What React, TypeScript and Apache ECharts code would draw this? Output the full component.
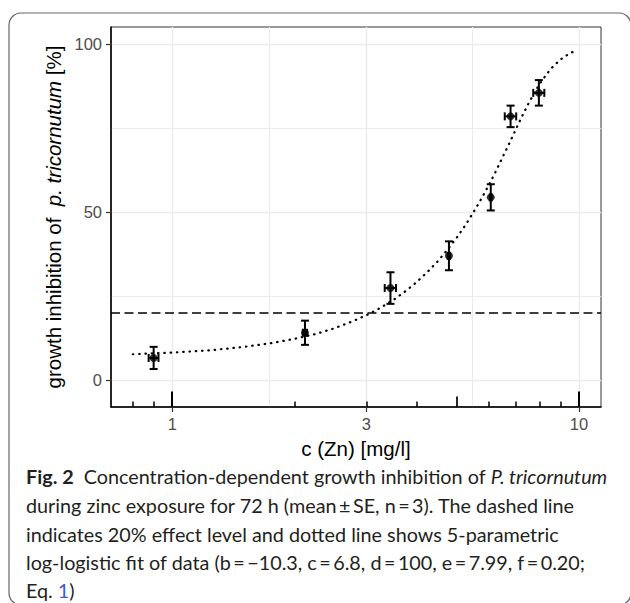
import React, { useEffect, useRef } from 'react';
import * as echarts from 'echarts';

// measured data (mean ± SE)
const concentration = [0.9, 2.12, 3.44, 4.79, 6.07, 6.79, 7.97];
const inhibition = [6.5, 14.0, 27.3, 36.9, 54.3, 78.4, 85.4];
const inhibitionSE = [3.3, 3.6, 4.7, 4.3, 3.9, 3.2, 3.8];
const concentrationSE = [0.025, 0.025, 0.11, 0.03, 0.03, 0.22, 0.25];

// dotted log-logistic fit
const fitConcentration = [0.8, 1, 1.25, 1.5, 1.75, 2, 2.25, 2.5, 2.75, 3, 3.25, 3.5, 3.75, 4, 4.25, 4.5, 4.75, 5, 5.25, 5.5, 5.75, 6, 6.25, 6.5, 6.75, 7, 7.25, 7.5, 7.75, 8, 8.5, 9, 9.5, 9.9];
const fitInhibition = [7.6, 8.1, 8.8, 9.8, 10.9, 12.2, 13.6, 15.3, 17.2, 19.2, 21.4, 23.8, 26.4, 29.2, 32.2, 35.3, 38.7, 42.2, 45.9, 49.8, 53.8, 57.9, 62.1, 66.4, 70.5, 74.6, 78.5, 82.0, 85.2, 88.0, 92.4, 95.3, 97.2, 98.1];

const effectLevel = 20;
const xTickLabels = [1, 3, 10];
const xMinorGrid = [1.732, 5.477];
const yTickLabels = [0, 50, 100];
const yMinorGrid = [25, 75];
const logTicksShort = [0.8, 0.9, 2, 3, 4, 6, 7, 8, 9];
const logTicksMid = [5];
const logTicksLong = [1, 10];

const X_MIN = 0.707;
const X_MAX = 11.33;
const Y_MIN = -8.1;
const Y_MAX = 105;

const AXIS_FONT = '"Liberation Sans", Arial, Helvetica, sans-serif';
const CAPTION_FONT = 'Lato, "Noto Sans", sans-serif';
const CAPTION_SIZE = 19.8;

const hidden = {
  axisLine: { show: false, onZero: false },
  axisLabel: { show: false },
  axisTick: { show: false },
  splitLine: { show: false },
  minorTick: { show: false },
  minorSplitLine: { show: false },
};

function tickAxis(values: number[], length: number, width: number) {
  return {
    type: 'log',
    logBase: 10,
    min: X_MIN,
    max: X_MAX,
    position: 'bottom',
    gridIndex: 0,
    ...hidden,
    axisTick: {
      show: true,
      inside: true,
      length,
      customValues: values,
      lineStyle: { color: '#000', width },
    },
  };
}

export default function App() {
  const ref = useRef<HTMLDivElement>(null);

  useEffect(() => {
    if (!ref.current) return;
    const chart = echarts.init(ref.current, undefined, { renderer: 'svg' });

    const errData = concentration.map((x, i) => [x, inhibition[i], inhibitionSE[i], concentrationSE[i]]);
    const pointData = concentration.map((x, i) => [x, inhibition[i]]);
    const fitData = fitConcentration.map((x, i) => [x, fitInhibition[i]]);

    const captionStyle = {
      fontFamily: CAPTION_FONT,
      fontSize: CAPTION_SIZE,
      fill: '#231f20',
      verticalAlign: 'middle',
      align: 'left',
    };
    const captionRich = {
      b: { fontFamily: CAPTION_FONT, fontSize: CAPTION_SIZE, fontWeight: 'bold', fill: '#231f20' },
      i: { fontFamily: CAPTION_FONT, fontSize: CAPTION_SIZE, fontStyle: 'italic', fill: '#231f20' },
      l: { fontFamily: CAPTION_FONT, fontSize: CAPTION_SIZE, fill: '#3a5bd9' },
    };
    const captionLines = [
      '{b|Fig. 2}  Concentration-dependent growth inhibition of {i|P. tricornutum}',
      'during zinc exposure for 72 h (mean\u2009±\u2009SE, n\u2009=\u20093). The dashed line',
      'indicates 20% effect level and dotted line shows 5-parametric',
      'log-logistic fit of data (b\u2009=\u2009−10.3, c\u2009=\u20096.8, d\u2009=\u2009100, e\u2009=\u20097.99, f\u2009=\u20090.20;',
      'Eq. {l|1})',
    ];
    const captionY = [476, 505, 534, 562, 590];

    chart.setOption({
      animation: false,
      backgroundColor: '#fff',
      grid: {
        left: 111,
        right: 29,
        top: 27,
        bottom: 196,
        show: true,
        borderColor: '#333',
        borderWidth: 1,
        backgroundColor: 'transparent',
        containLabel: false,
        outerBoundsMode: 'none',
      },
      xAxis: [
        {
          type: 'log',
          logBase: 10,
          min: X_MIN,
          max: X_MAX,
          position: 'bottom',
          name: 'c (Zn) [mg/l]',
          nameLocation: 'middle',
          nameGap: 31,
          nameTextStyle: { fontFamily: AXIS_FONT, fontSize: 20.5, color: '#000' },
          axisLine: { show: true, onZero: false, lineStyle: { color: '#000', width: 1.5 } },
          axisTick: { show: true, length: 5, customValues: xTickLabels, lineStyle: { color: '#333', width: 1.2 } },
          axisLabel: {
            show: true,
            customValues: xTickLabels,
            margin: 8,
            fontFamily: AXIS_FONT,
            fontSize: 16.5,
            color: '#4d4d4d',
            formatter: (v: number) => String(Math.round(v)),
          },
          splitLine: { show: true, lineStyle: { color: '#ebebeb', width: 1.4 } },
          minorTick: { show: false },
          minorSplitLine: { show: false },
        },
        {
          type: 'log',
          logBase: 10,
          min: X_MIN,
          max: X_MAX,
          position: 'bottom',
          ...hidden,
          axisTick: { show: false, customValues: xMinorGrid },
          splitLine: { show: true, lineStyle: { color: '#ebebeb', width: 1 } },
        },
        tickAxis(logTicksShort, 5.5, 1.5),
        tickAxis(logTicksMid, 10.5, 1.7),
        tickAxis(logTicksLong, 15.5, 2),
      ],
      yAxis: [
        {
          type: 'value',
          min: Y_MIN,
          max: Y_MAX,
          position: 'left',
          name: '{n|growth inhibition of  }{i|p. tricornutum}{n| [%]}',
          nameLocation: 'middle',
          nameGap: 43,
          nameRotate: 90,
          nameTextStyle: {
            fontFamily: AXIS_FONT,
            fontSize: 20.5,
            color: '#000',
            rich: {
              n: { fontFamily: AXIS_FONT, fontSize: 20.5, color: '#000' },
              i: { fontFamily: AXIS_FONT, fontSize: 20.5, color: '#000', fontStyle: 'italic' },
            },
          },
          axisLine: { show: true, onZero: false, lineStyle: { color: '#000', width: 1.5 } },
          axisTick: { show: true, length: 5, customValues: yTickLabels, lineStyle: { color: '#333', width: 1.2 } },
          axisLabel: {
            show: true,
            customValues: yTickLabels,
            margin: 9,
            fontFamily: AXIS_FONT,
            fontSize: 16.5,
            color: '#4d4d4d',
          },
          splitLine: { show: true, lineStyle: { color: '#ebebeb', width: 1.4 } },
        },
        {
          type: 'value',
          min: Y_MIN,
          max: Y_MAX,
          position: 'left',
          ...hidden,
          axisTick: { show: false, customValues: yMinorGrid },
          splitLine: { show: true, lineStyle: { color: '#ebebeb', width: 1 } },
        },
      ],
      series: [
        {
          type: 'line',
          name: 'fit',
          data: fitData,
          showSymbol: false,
          symbol: 'none',
          silent: true,
          lineStyle: { color: '#000', width: 2.2, type: [0.5, 5.8], cap: 'round' },
          markLine: {
            silent: true,
            symbol: ['none', 'none'],
            label: { show: false },
            lineStyle: { color: '#000', width: 1.5, type: [9, 4.5] },
            data: [{ yAxis: effectLevel }],
          },
          z: 3,
        },
        {
          type: 'custom',
          name: 'error',
          data: errData,
          encode: { x: 0, y: 1 },
          silent: true,
          z: 4,
          renderItem: (_params: any, api: any) => {
            const x = api.value(0);
            const y = api.value(1);
            const se = api.value(2);
            const xse = api.value(3);
            const c = api.coord([x, y]);
            const t = api.coord([x, y + se]);
            const b = api.coord([x, y - se]);
            const l = api.coord([x - xse, y]);
            const r = api.coord([x + xse, y]);
            const cap = 4;
            const st = { stroke: '#000', lineWidth: 2 };
            return {
              type: 'group',
              children: [
                { type: 'line', shape: { x1: c[0], y1: t[1], x2: c[0], y2: b[1] }, style: st },
                { type: 'line', shape: { x1: c[0] - cap, y1: t[1], x2: c[0] + cap, y2: t[1] }, style: st },
                { type: 'line', shape: { x1: c[0] - cap, y1: b[1], x2: c[0] + cap, y2: b[1] }, style: st },
                { type: 'line', shape: { x1: l[0], y1: c[1], x2: r[0], y2: c[1] }, style: st },
                { type: 'line', shape: { x1: l[0], y1: c[1] - cap, x2: l[0], y2: c[1] + cap }, style: st },
                { type: 'line', shape: { x1: r[0], y1: c[1] - cap, x2: r[0], y2: c[1] + cap }, style: st },
              ],
            };
          },
        },
        {
          type: 'scatter',
          name: 'mean',
          data: pointData,
          symbol: 'circle',
          symbolSize: 8,
          itemStyle: { color: '#000' },
          silent: true,
          z: 5,
        },
      ],
      graphic: [
        {
          type: 'rect',
          shape: { x: 9, y: 13, width: 622, height: 592, r: 12 },
          style: { fill: 'none', stroke: '#666', lineWidth: 1.2 },
          silent: true,
        },
        ...captionLines.map((text, i) => ({
          type: 'text',
          x: 26,
          y: captionY[i],
          silent: true,
          style: { ...captionStyle, text, rich: captionRich },
        })),
      ],
    });

    return () => chart.dispose();
  }, []);

  return (
    <div
      ref={ref}
      style={{ position: 'absolute', left: 0, top: 0, width: 630, height: 603, background: '#fff' }}
    />
  );
}
